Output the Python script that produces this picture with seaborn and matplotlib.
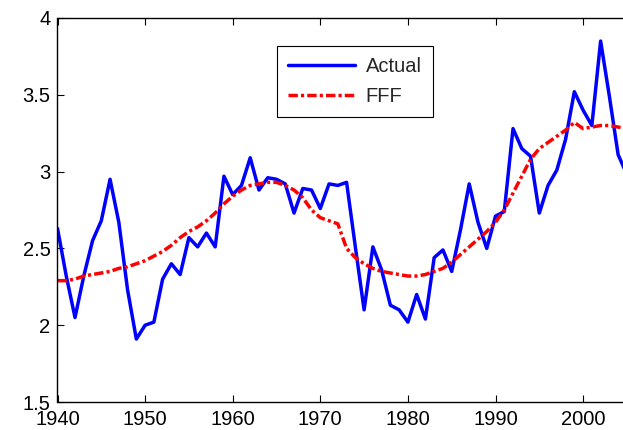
import numpy as np
import pandas as pd
import matplotlib
matplotlib.use("Agg")
import matplotlib.pyplot as plt
import seaborn as sns

years = list(range(1940, 2006))

actual = [2.63, 2.32, 2.05, 2.32, 2.55, 2.68, 2.95, 2.67, 2.23, 1.91,
          2.00, 2.02, 2.30, 2.40, 2.33, 2.57, 2.51, 2.60, 2.51, 2.97,
          2.85, 2.91, 3.09, 2.88, 2.96, 2.95, 2.92, 2.73, 2.89, 2.88,
          2.76, 2.92, 2.91, 2.93, 2.51, 2.10, 2.51, 2.36, 2.13, 2.10,
          2.02, 2.20, 2.04, 2.44, 2.49, 2.35, 2.62, 2.92, 2.67, 2.50,
          2.71, 2.74, 3.28, 3.15, 3.10, 2.73, 2.91, 3.01, 3.21, 3.52,
          3.40, 3.30, 3.85, 3.49, 3.11, 2.98]

fff = [2.29, 2.29, 2.30, 2.32, 2.33, 2.34, 2.35, 2.37, 2.38, 2.40,
       2.42, 2.45, 2.48, 2.52, 2.57, 2.61, 2.64, 2.68, 2.73, 2.79,
       2.84, 2.88, 2.91, 2.92, 2.93, 2.93, 2.91, 2.88, 2.83, 2.75,
       2.70, 2.68, 2.66, 2.50, 2.44, 2.40, 2.37, 2.35, 2.34, 2.33,
       2.32, 2.32, 2.33, 2.35, 2.37, 2.41, 2.46, 2.51, 2.56, 2.61,
       2.67, 2.75, 2.86, 2.97, 3.08, 3.15, 3.19, 3.23, 3.27, 3.32,
       3.28, 3.29, 3.30, 3.30, 3.29, 3.28]

xticks = [1940, 1950, 1960, 1970, 1980, 1990, 2000]
yticks = [1.5, 2, 2.5, 3, 3.5, 4]
ytick_labels = ["1.5", "2", "2.5", "3", "3.5", "4"]

sns.set_theme(style="ticks")
plt.rcParams['font.family'] = ['Liberation Sans', 'DejaVu Sans']
plt.rcParams['axes.linewidth'] = 1.0

df = pd.DataFrame({"year": years, "Actual": actual, "FFF": fff})

fig = plt.figure(figsize=(6.23, 4.30), dpi=100)
W, H = 623, 430
left_px, top_px, bottom_px = 57.5, 18, 402
right_px = 57.5 + 70 * 8.76
ax = fig.add_axes([left_px / W, 1 - bottom_px / H,
                   (right_px - left_px) / W, (bottom_px - top_px) / H])

sns.lineplot(data=df, x="year", y="Actual", ax=ax, color=(0, 0, 1),
             linewidth=2.5, label="Actual")
sns.lineplot(data=df, x="year", y="FFF", ax=ax, color=(1, 0, 0),
             linewidth=2.5, linestyle=(0, (2.7, 0.9, 0.9, 0.9)), label="FFF")

ax.set_xlim(1940, 2010)
ax.set_ylim(1.5, 4)
ax.set_xticks(xticks)
ax.set_yticks(yticks)
ax.set_yticklabels(ytick_labels)
ax.set_xlabel("")
ax.set_ylabel("")
for s in ax.spines.values():
    s.set_visible(True)
    s.set_color("black")
    s.set_linewidth(1.0)
ax.tick_params(direction="in", length=5, width=0.8, top=True, right=True,
               labelsize=14.5, colors="black")
ax.tick_params(axis="x", pad=6)
ax.tick_params(axis="y", pad=5)

leg = ax.legend(loc="upper left",
                bbox_to_anchor=(277 / W, 1 - 46 / H),
                bbox_transform=fig.transFigure,
                borderaxespad=0, fontsize=14.5, frameon=True,
                fancybox=False, edgecolor="black", framealpha=1,
                handlelength=3.3, handletextpad=0.55, borderpad=0.55,
                labelspacing=0.55)
leg.get_frame().set_linewidth(0.8)

fig.savefig("out.png", dpi=100)
